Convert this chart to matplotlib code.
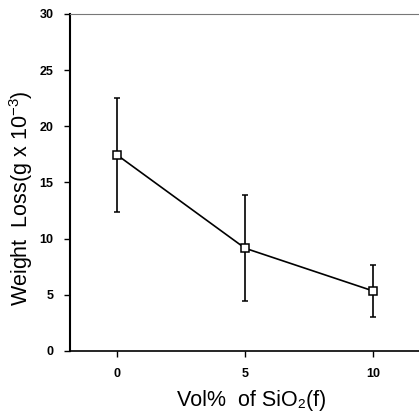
import matplotlib
matplotlib.use("Agg")
import matplotlib.pyplot as plt

plt.rcParams['font.family'] = ['Liberation Sans', 'DejaVu Sans']
plt.rcParams['mathtext.default'] = 'regular'

vol = [0, 5, 10]
weight_loss = [17.45, 9.15, 5.35]
err = [5.1, 4.7, 2.3]
xticks = [0, 5, 10]
yticks = [0, 5, 10, 15, 20, 25, 30]

fig = plt.figure(figsize=(4.19, 4.11), dpi=100)
ax = fig.add_axes([0.167, 0.146, 0.833, 0.82])

ax.errorbar(vol, weight_loss, yerr=err, color='black', lw=1.2, elinewidth=1.2,
            capsize=2.5, capthick=1.0, marker='s', markersize=6,
            markerfacecolor='white', markeredgecolor='black', markeredgewidth=1.1)

ax.set_xlim(-1.84, 11.8)
ax.set_ylim(0, 30)
ax.set_xticks(xticks)
ax.set_yticks(yticks)
ax.tick_params(axis='both', direction='out', length=4, width=1, labelsize=9, pad=8)
for lab in ax.get_xticklabels() + ax.get_yticklabels():
    lab.set_fontweight('bold')

ax.spines['right'].set_visible(False)
ax.spines['top'].set_color('#777777')
ax.spines['top'].set_linestyle((0, (6, 1)))
ax.spines['left'].set_linewidth(1.5)
ax.spines['bottom'].set_linewidth(1.2)

ax.set_xlabel('Vol%  of SiO\u2082(f)', fontsize=15.5)
ax.set_ylabel('Weight  Loss(g x 10$^{-3}$)', fontsize=15.5)
ax.xaxis.set_label_coords(0.52, -0.115)
ax.yaxis.set_label_coords(-0.1, 0.455)

fig.savefig('out.png', dpi=100)
